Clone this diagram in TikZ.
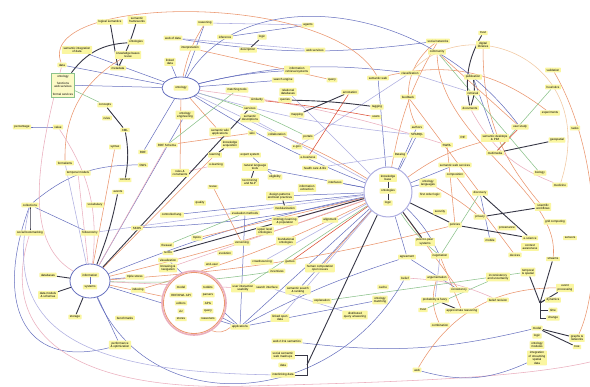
\documentclass[tikz,border=0pt]{standalone}
\usepackage{fontspec}
\setmainfont{Liberation Sans}
\usetikzlibrary{shapes.geometric}
\pgfdeclarelayer{bg}
\pgfsetlayers{bg,main}
\definecolor{nodey}{RGB}{250,246,160}
\definecolor{cb}{RGB}{100,110,190}
\definecolor{co}{RGB}{235,150,110}
\definecolor{ck}{RGB}{55,55,70}
\definecolor{cg}{RGB}{140,195,140}
\definecolor{cp}{RGB}{235,175,190}
\definecolor{cl}{RGB}{175,175,225}
\definecolor{cr}{RGB}{222,80,55}
\definecolor{cy}{RGB}{242,200,160}
\begin{document}
\begin{tikzpicture}[x=1pt,y=-1pt,
  bx/.style={fill=nodey, inner xsep=1.6pt, inner ysep=1.2pt, font=\fontsize{3}{3.4}\selectfont, align=center, rounded corners=0.6pt},
  ell/.style={ellipse, draw=cb, line width=0.8pt, fill=white, inner sep=0pt},
  eb/.style={draw=cb, line width=0.5pt},
  eo/.style={draw=co, line width=0.55pt},
  ek/.style={draw=ck, line width=0.9pt},
  eg/.style={draw=cg, line width=0.55pt},
  ep/.style={draw=cp, line width=0.55pt},
  el/.style={draw=cl, line width=0.55pt},
  er/.style={draw=cr, line width=0.55pt},
  ey/.style={draw=cy, line width=0.55pt}]
\useasboundingbox (0,0) rectangle (590,387);

% ---------- ellipses / groups ----------
\node[ell, minimum width=38, minimum height=22] (E1) at (181,88) {};
\node[bx] (E1t) at (181,88) {ontology};
\node[ell, draw=cl, line width=1pt, minimum width=48, minimum height=50] (E2) at (388,192) {};
\node[bx] (E2a) at (388,178) {knowledge\\base};
\node[bx] (E2b) at (388,191) {ontologies};
\node[bx] (E2c) at (388,203) {logic};
\node[ell, minimum width=40, minimum height=34] (E3) at (90,281) {};
\node[bx] (E3a) at (90,275) {information};
\node[bx] (E3b) at (90,287) {systems};
\node[draw=cg, fill=nodey!60, line width=0.6pt, minimum width=23, minimum height=24] (gb) at (63,85) {};
\node[font=\fontsize{3}{3.4}\selectfont, align=center] at (63,77) {ontology};
\node[font=\fontsize{3}{3.4}\selectfont, align=center] at (63,85) {functions\\web services};
\node[font=\fontsize{3}{3.4}\selectfont, align=center] at (63,94) {formal services};
\node[circle, draw=cp, line width=1.6pt, minimum size=64, fill=white] (C) at (194,303) {};
\draw[co, line width=0.8pt] (C.center) circle (30.5);
\node[bx] (C1) at (181,287) {model};
\node[bx] (C2) at (181,295) {RDF/OWL API};
\node[bx] (C3) at (181,303) {editors};
\node[bx] (C4) at (181,311) {viz};
\node[bx] (C5) at (181,319) {stores};
\node[bx] (C6) at (208,287) {toolkits};
\node[bx] (C7) at (208,295) {parsers};
\node[bx] (C8) at (208,303) {APIs};
\node[bx] (C9) at (208,311) {query};
\node[bx] (C10) at (208,319) {reasoners};

% ---------- nodes ----------
\node[bx] (a1) at (110,22) {logical semantics};
\node[bx] (a2) at (137,20) {semantic\\frameworks};
\node[bx] (a3) at (136,42) {ontologies};
\node[bx] (a4) at (77,50) {semantic integration\\of data};
\node[bx] (a5) at (128,55) {knowledge bases\\reuse};
\node[bx] (a6) at (62,65) {data};
\node[bx] (a7) at (118,68) {metadata};
\node[bx] (a8) at (105,105) {concepts};
\node[bx] (a9) at (107,118) {rules};
\node[bx] (a10) at (22,127) {percentage};
\node[bx] (a11) at (58,127) {value};
\node[bx] (a12) at (173,38) {web of data};
\node[bx] (a13) at (190,48) {interpretation};
\node[bx] (a14) at (170,62) {linked\\data};
\node[bx] (a15) at (185,115) {ontology\\engineering};

\node[bx] (b1) at (205,23) {reasoning};
\node[bx] (b2) at (225,37) {inference};
\node[bx] (b3) at (262,37) {logic};
\node[bx] (b4) at (248,50) {description};
\node[bx] (b5) at (308,25) {agents};
\node[bx] (b6) at (315,50) {web services};
\node[bx] (b7) at (297,70) {information\\retrieval systems};
\node[bx] (b8) at (283,80) {search engine};
\node[bx] (b9) at (332,80) {query};
\node[bx] (b10) at (378,78) {semantic web};
\node[bx] (b11) at (288,92) {relational\\databases};
\node[bx] (b12) at (237,90) {matching tools};
\node[bx] (b13) at (257,100) {similarity};
\node[bx] (b14) at (285,100) {queries};
\node[bx] (b15) at (350,92) {annotation};
\node[bx] (b16) at (250,108) {services};
\node[bx] (b17) at (250,118) {semantic\\descriptions};
\node[bx] (b18) at (297,115) {mapping};
\node[bx] (b19) at (377,107) {tagging};
\node[bx] (b20) at (376,117) {users};

\node[bx] (c1) at (483,33) {trust};
\node[bx] (c2) at (483,45) {digital\\libraries};
\node[bx] (c3) at (438,41) {social networks};
\node[bx] (c4) at (437,52) {community};
\node[bx] (c5) at (553,70) {validation};
\node[bx] (c6) at (553,87) {heuristics};
\node[bx] (c7) at (473,77) {publication};
\node[bx] (c8) at (473,93) {retrieval};
\node[bx] (c9) at (470,108) {documents};
\node[bx] (c10) at (410,73) {classification};
\node[bx] (c11) at (408,97) {feedback};
\node[bx] (c12) at (417,127) {authors};
\node[bx] (c13) at (550,113) {experiments};
\node[bx] (c14) at (520,127) {user study};
\node[bx] (c15) at (575,128) {tasks};

\node[bx] (d1) at (125,130) {XML};
\node[bx] (d2) at (115,147) {syntax};
\node[bx] (d3) at (143,152) {RDF};
\node[bx] (d4) at (167,145) {RDF Schema};
\node[bx] (d5) at (65,163) {formalisms};
\node[bx] (d6) at (78,173) {temporal models};
\node[bx] (d7) at (143,165) {OWL};
\node[bx] (d8) at (180,173) {rules \&\\constraints};
\node[bx] (d9) at (125,180) {context};
\node[bx] (d10) at (118,192) {events};
\node[bx] (d11) at (30,205) {collections};
\node[bx] (d12) at (95,205) {vocabulary};
\node[bx] (d13) at (172,215) {controlled lang.};
\node[bx] (d14) at (30,233) {social bookmarking};
\node[bx] (d15) at (90,233) {folksonomy};
\node[bx] (d16) at (137,228) {SKOS};
\node[bx] (d17) at (167,245) {thesauri};
\node[bx] (d18) at (168,253) {terms};
\node[bx] (d19) at (197,238) {topics};

\node[bx] (e1) at (220,132) {semantic wiki\\applications};
\node[bx] (e2) at (252,133) {wiki};
\node[bx] (e3) at (277,134) {collaboration};
\node[bx] (e4) at (308,137) {portals};
\node[bx] (e5) at (230,144) {knowledge\\acquisition};
\node[bx] (e6) at (250,155) {expert system};
\node[bx] (e7) at (215,155) {learning};
\node[bx] (e8) at (297,147) {e-gov};
\node[bx] (e9) at (308,157) {e-business};
\node[bx] (e10) at (255,167) {natural language\\tools};
\node[bx] (e11) at (216,165) {e-learning};
\node[bx] (e12) at (315,168) {health care \& life};
\node[bx] (e13) at (275,177) {eligibility};
\node[bx] (e14) at (250,182) {text mining\\and NLP};
\node[bx] (e15) at (307,188) {information\\extraction};
\node[bx] (e16) at (335,182) {interfaces};
\node[bx] (e17) at (213,187) {reuse};
\node[bx] (e18) at (280,196) {design patterns\\and best practices};
\node[bx] (e19) at (285,208) {modularization};
\node[bx] (e20) at (200,203) {quality};
\node[bx] (e21) at (245,213) {evaluation methods};
\node[bx] (e22) at (285,221) {ontology learning\\\& population};
\node[bx] (e23) at (330,220) {alignment};
\node[bx] (e24) at (265,231) {upper level\\ontologies};
\node[bx] (e25) at (286,241) {foundational\\ontologies};
\node[bx] (e26) at (242,243) {versioning};
\node[bx] (e27) at (225,253) {evolution};

\node[bx] (f1) at (417,135) {SPARQL};
\node[bx] (f3) at (463,137) {RIF};
\node[bx] (f4) at (495,138) {semantic desktops\\\& PIM};
\node[bx] (f5) at (447,145) {SWRL};
\node[bx] (f6) at (400,155) {Datalog};
\node[bx] (f7) at (495,153) {multimedia};
\node[bx] (f8) at (557,140) {geospatial};
\node[bx] (f9) at (455,165) {semantic web services};
\node[bx] (f10) at (455,175) {composition};
\node[bx] (f11) at (540,173) {biology};
\node[bx] (f12) at (428,183) {ontology\\languages};
\node[bx] (f13) at (430,195) {first order logic};
\node[bx] (f14) at (560,185) {medicine};
\node[bx] (f15) at (480,193) {discovery};
\node[bx] (f16) at (543,207) {scientific\\workflows};
\node[bx] (f17) at (440,212) {security};
\node[bx] (f18) at (480,217) {privacy};
\node[bx] (f19) at (455,225) {policies};
\node[bx] (f20) at (507,228) {provenance};
\node[bx] (f21) at (555,222) {grid computing};
\node[bx] (f22) at (530,238) {e-science};
\node[bx] (f23) at (570,238) {sensors};
\node[bx] (f24) at (490,240) {mobile};
\node[bx] (f25) at (530,247) {context\\awareness};
\node[bx] (f26) at (425,242) {peer-to-peer\\systems};
\node[bx] (f29) at (515,255) {devices};

\node[bx] (g1) at (48,275) {databases};
\node[bx] (g2) at (48,295) {data models\\\& schemas};
\node[bx] (g3) at (75,317) {storage};
\node[bx] (g4) at (135,277) {triple stores};
\node[bx] (g5) at (138,290) {indexing};
\node[bx] (g6) at (125,318) {benchmarks};
\node[bx] (g7) at (120,345) {performance\\\& optimization};
\node[bx] (g8) at (168,260) {visualization};
\node[bx] (g9) at (168,268) {browsing \&\\navigation};

\node[bx] (h1) at (212,264) {end-user};
\node[bx] (h2) at (262,262) {crowdsourcing};
\node[bx] (h3) at (290,262) {games};
\node[bx] (h4) at (277,271) {incentives};
\node[bx] (h5) at (320,268) {human computation\\open issues};
\node[bx] (h6) at (243,288) {user interaction\\usability};
\node[bx] (h7) at (267,287) {search interface};
\node[bx] (h8) at (298,290) {semantic search\\\& ranking};
\node[bx] (h9) at (322,301) {explanation};
\node[bx] (h10) at (280,318) {linked open\\data};
\node[bx] (h11) at (240,327) {applications};
\node[bx] (h12) at (287,341) {web 2.0 \& semantics};
\node[bx] (h13) at (283,355) {social semantic\\web mashups};
\node[bx] (h14) at (283,365) {data};
\node[bx] (h15) at (283,375) {interlinking data};
\node[bx] (h16) at (380,300) {ontology\\matching};
\node[bx] (h17) at (355,315) {distributed\\query answering};
\node[bx] (h18) at (383,287) {cache};

\node[bx] (i1) at (407,257) {agreement};
\node[bx] (i2) at (440,256) {negotiation};
\node[bx] (i3) at (405,278) {belief};
\node[bx] (i4) at (437,278) {argumentation};
\node[bx] (i5) at (459,290) {consistency};
\node[bx] (i6) at (498,277) {inconsistency\\and uncertainty};
\node[bx] (i7) at (435,300) {probability \& fuzzy};
\node[bx] (i8) at (423,310) {trust};
\node[bx] (i9) at (462,311) {approximate reasoning};
\node[bx] (i10) at (440,325) {combination};
\node[bx] (i11) at (498,300) {belief revision};
\node[bx] (i12) at (528,272) {temporal\\\& spatial};
\node[bx] (i13) at (553,259) {streams};
\node[bx] (i14) at (565,288) {event\\processing};
\node[bx] (i15) at (553,300) {dynamics};
\node[bx] (i16) at (553,310) {time};
\node[bx] (i17) at (553,318) {change};
\node[bx] (i18) at (537,328) {model};
\node[bx] (i19) at (537,336) {logic};
\node[bx] (i20) at (537,345) {ontology\\modules};
\node[bx] (i21) at (537,358) {integration\\of streaming\\spatial\\data};
\node[bx] (i22) at (577,338) {graphs \&\\networks};
\node[bx] (i23) at (577,347) {tree};
\node[bx] (i24) at (417,370) {web};

\coordinate (rb) at (590,362);
\coordinate (J) at (540,303);
\coordinate (bxa) at (307,355);
\coordinate (bxb) at (307,375);
\coordinate (bxm) at (307,365);

% ---------- connectors ----------
\begin{pgfonlayer}{bg}
\fill[white] (0,0) rectangle (590,387);
\foreach \a/\b/\s/\n in {
 a6/E1/eb/0, gb/E1/eb/0, E1/d3/eb/0, E1/a14/eb/0, E1/E2/eb/-5, E1/b7/eb/5, E1/c10/eb/10, E1/b8/eb/0,
 d11/d7/eb/20, E3/E2/eb/5, E3/h11/eb/0, E3/g7/eb/0, E3/g4/eb/0, E3/a15/eb/0, h11/E2/eb/0, h11/h16/eb/0,
 h11/i1/eb/5, h11/g8/eb/0, h11/C/eb/0, h11/e21/eb/0, E2/f9/eb/0, E2/f12/eb/0, E2/f1/eb/0, E2/b10/eb/0,
 E2/c12/eb/0, E2/e16/eb/0, E2/e18/eb/0, E2/d13/eb/0, E2/e10/eb/0, b2/b5/eb/0, b1/E1/eb/0, f15/f24/eb/0,
 i1/i5/eb/0, c7/f4/eb/0, d16/E2/eb/-5, E2/i2/eb/10, E2/h8/eb/0, e6/e13/eb/0, a4/E1/eb/0, h12/i18/eb/-10,
 a10/a11/eb/0, d11/d15/eb/0, E2/i1/eb/0, a12/c3/eb/-8,
 E1/e1/eo/0, E1/d8/eo/0, E1/b1/eo/10, E2/f4/eo/10, E2/c3/eo/10, d4/e2/eo/0, E3/f19/eo/-5, E3/E2/eo/-3,
 E3/C/eo/0, E3/e7/eo/0, d2/E3/eo/0, f10/f29/eo/0, f5/f19/eo/0, f12/f18/eo/5, C/h11/eo/-30, b10/c13/eo/25,
 c3/c12/eo/-40, c2/f16/eo/-20, c4/c14/eo/0, i24/i14/eo/30, h5/E2/eo/0, e3/E2/eo/5, a13/b9/eo/0, d19/E2/eo/0,
 i2/i9/eo/0, i4/i10/eo/-20, g5/E2/eo/-5, e17/e26/eo/0, a5/d5/eo/-30, i5/E2/eo/0, c11/f15/eo/0,
 E2/i2/eg/-8, d4/b12/eg/0, f15/i2/eg/0, c4/f11/eg/0, c6/f7/eg/0, E1/e4/eg/5, h6/E2/eg/0, d17/e21/eg/0,
 i8/i6/eg/0, E3/h4/eg/-5, gb/a8/eg/0, h9/i12/eg/0,
 d6/E3/ep/0, E3/d4/ep/0, E3/h6/ep/0, E2/g9/ep/0, E1/f5/ep/5, a11/E3/ep/20, c9/f14/ep/-20, e22/E2/ep/0,
 i3/i11/ep/10, d8/e11/ep/0,
 d5/E3/el/0, E1/e3/el/0, E1/f1/el/-5, a12/b6/el/0, b1/b5/el/0, b11/E2/el/0, b17/E2/el/0, e8/c10/el/0,
 e12/f6/el/0, c10/c8/el/0, h10/E2/el/0, h2/E2/el/0, d15/E2/el/0, i7/i2/el/0, h7/h17/el/0,
 c14/f7/er/0, b13/b20/er/2, E2/h3/er/0, b15/e9/er/0,
 a1/a7/ek/0, a2/a7/ek/5, a3/gb/ek/-25, a8/d1/ek/0, d1/d9/ek/10, d10/E3/ek/5, d11/d14/ek/0, E3/g1/ek/0,
 E3/g2/ek/0, E3/g3/ek/0, E3/b16/ek/0, e5/e7/ek/0, e18/e19/ek/10, b3/b4/ek/0, b14/b19/ek/3, b15/b18/ek/0,
 c1/c9/ek/-20, c7/c9/ek/15, f7/f8/ek/0, f15/f22/ek/0, f18/f16/ek/0, E2/d18/ek/0, E2/f26/ek/0, E2/f19/ek/0,
 i7/i9/ek/0, i18/i22/ek/0, i18/i23/ek/0, f19/f22/ek/0, e14/e10/ek/0}
 \draw[\s] (\a) to[bend left=\n] (\b);
\draw[eo] (a6) .. controls (35,-5) and (330,-10) .. (b10);
\draw[eb] (E1) .. controls (240,-15) and (420,-5) .. (c14);
\draw[eb] (d11) .. controls (-5,300) and (20,370) .. (g7);
\draw[eb] (E3) .. controls (150,420) and (330,410) .. (i3);
\draw[ep] (d14) .. controls (-5,345) and (90,392) .. (250,386) .. controls (400,382) and (520,378) .. (rb);
\draw[el] (d11) .. controls (0,330) and (80,372) .. (h15);
\draw[eo] (c5) .. controls (605,160) and (600,290) .. (i22);
\draw[ey] (c10) .. controls (470,10) and (600,60) .. (f14);
\draw[eo] (c4) .. controls (440,140) and (560,190) .. (i13);
\draw[ep] (a6) .. controls (40,150) and (20,240) .. (E3);
\draw[ek] (h13.east) -- (bxa) -- (bxb) -- (h15.east);
\draw[ek] (bxm) -- (E2);
\draw[ek] (J) -- (i12); \draw[ek] (J) -- (i13); \draw[ek] (J) -- (i14);
\draw[ek] (J) |- (i16.west); \draw[ek] (J) |- (i17.west); \draw[ek] (J) -- (i15.west);
\draw[eb] (i21) to[bend left=20] (i24);
\end{pgfonlayer}
\draw[ck, line width=0.4pt] (E2a) -- (E2b) -- (E2c);
\draw[cb, line width=0.4pt] (E3a) -- (E3b);
\end{tikzpicture}
\end{document}
